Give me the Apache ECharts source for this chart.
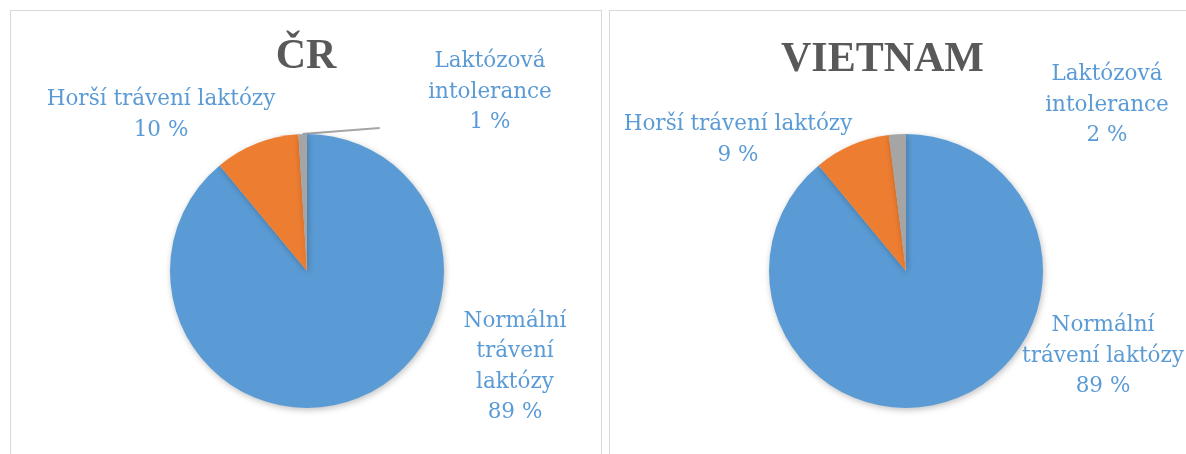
<!DOCTYPE html>
<html>
<head>
<meta charset="utf-8">
<script src="https://cdn.jsdelivr.net/npm/echarts@6/dist/echarts.min.js"></script>
<style>
  html, body { margin: 0; padding: 0; background: #fff; overflow: hidden; width: 1186px; height: 454px; }
  .panel { position: absolute; border: 1px solid #d9d9d9; box-sizing: border-box; }
  #cr { left: 10px; top: 10px; width: 592px; height: 470px; }
  #vn { left: 609px; top: 10px; width: 600px; height: 470px; }
</style>
</head>
<body>
<div id="cr" class="panel"></div>
<div id="vn" class="panel"></div>
<script>
  // kategorie a hodnoty (%)
  const categories = ['Normální trávení laktózy', 'Horší trávení laktózy', 'Laktózová intolerance']
  const crValues = [89, 10, 1]
  const vietnamValues = [89, 9, 2]
  const colors = ['#5B9BD5', '#ED7D31', '#A5A5A5']

  const titleFont = 'Liberation Serif'
  const labelFont = 'DejaVu Serif'

  // umístění popisků (střed textu v px uvnitř panelu) a počet slov na řádek
  const crLabels = [
    { x: 504, y: 356, words: 1 },
    { x: 150, y: 104, words: 3 },
    { x: 479, y: 81, words: 1, line: true }
  ]
  const vnLabels = [
    { x: 493, y: 345, words: [1, 2] },
    { x: 128, y: 129, words: 3 },
    { x: 497, y: 94, words: 1 }
  ]

  // zalomení názvu kategorie po slovech
  const wrapName = (name, words) => {
    const parts = name.split(' ')
    const sizes = Array.isArray(words) ? words : Array(parts.length).fill(words)
    const out = []
    let k = 0
    sizes.forEach((n) => {
      if (k < parts.length) out.push(parts.slice(k, k + n).join(' '))
      k += n
    })
    return out.join('\n')
  }

  const buildOption = (title, titleLeft, titleTop, values, spots) => {
    const data = categories.map((name, i) => ({
      name: name,
      value: values[i],
      itemStyle: { color: colors[i] },
      labelLine: { show: !!spots[i].line }
    }))
    return {
      animation: false,
      title: {
        text: title,
        left: titleLeft,
        top: titleTop,
        textStyle: {
          fontFamily: titleFont,
          fontSize: 42,
          fontWeight: 'bold',
          color: '#595959'
        }
      },
      series: [
        {
          type: 'pie',
          center: [296, 260],
          radius: 137,
          startAngle: 90,
          clockwise: true,
          avoidLabelOverlap: false,
          percentPrecision: 0,
          itemStyle: {
            borderWidth: 0,
            shadowBlur: 6,
            shadowColor: 'rgba(0,0,0,0.25)',
            shadowOffsetX: 1,
            shadowOffsetY: 2
          },
          label: {
            show: true,
            position: 'outside',
            formatter: (p) => wrapName(p.name, spots[p.dataIndex].words) + '\n' + p.percent + ' %',
            fontFamily: labelFont,
            fontWeight: 'normal',
            fontSize: 21.5,
            lineHeight: 30.5,
            color: '#5B9BD5',
            textAlign: 'center'
          },
          labelLine: {
            show: false,
            lineStyle: { color: '#A5A5A5', width: 2 }
          },
          labelLayout: (params) => {
            const s = spots[params.dataIndex]
            const out = { x: s.x, y: s.y, align: 'center', verticalAlign: 'middle' }
            const pts = params.labelLinePoints
            if (s.line && pts && pts.length) {
              // vodicí čára téměř vodorovně doprava od vrcholu výseče
              const p0 = pts[0]
              out.labelLinePoints = [p0, [p0[0] + 38, p0[1] - 3], [p0[0] + 77, p0[1] - 6]]
            }
            return out
          },
          data: data
        }
      ]
    }
  }

  const crChart = echarts.init(document.getElementById('cr'))
  crChart.setOption(buildOption('ČR', 'center', 20, crValues, crLabels))

  const vnChart = echarts.init(document.getElementById('vn'))
  vnChart.setOption(buildOption('VIETNAM', 166, 23, vietnamValues, vnLabels))
</script>
</body>
</html>
